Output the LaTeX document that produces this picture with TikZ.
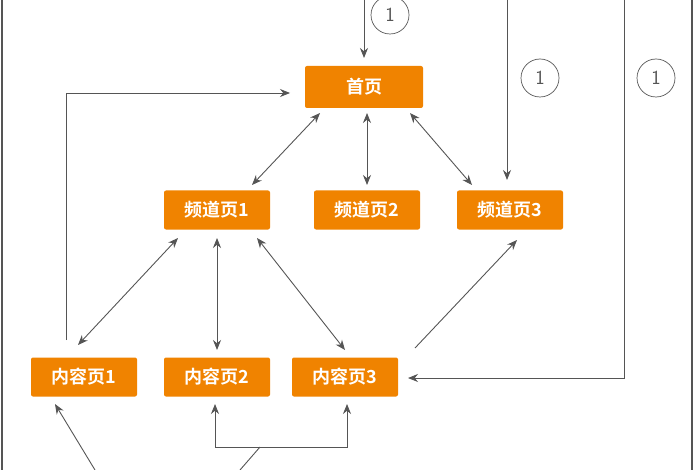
\documentclass[tikz,border=0pt]{standalone}
\usepackage{fontspec}
\newfontfamily\cjk{Noto Sans CJK SC Bold}
\usetikzlibrary{arrows.meta}
\definecolor{org}{HTML}{F08300}
\definecolor{ln}{HTML}{555555}
\begin{document}
\begin{tikzpicture}[x=1pt,y=-1pt,
  pg/.style={fill=org,rounded corners=2pt,text=white,font=\cjk\fontsize{18}{18}\selectfont,minimum width=106pt,minimum height=39pt,inner sep=0pt},
  cn/.style={draw=ln,line width=0.9pt,-{Stealth[length=10pt,width=8pt]}},
  bi/.style={draw=ln,line width=0.9pt,{Stealth[length=10pt,width=8pt]}-{Stealth[length=10pt,width=8pt]}},
  num/.style={circle,draw=ln,line width=0.7pt,minimum size=38pt,inner sep=0pt,font=\sffamily\fontsize{20}{20}\selectfont,text=ln}]
\useasboundingbox (0,0) rectangle (700,470);
\draw[ln,line width=1.2pt] (2,0)--(2,470) (692,0)--(692,470);
\node[pg,minimum width=118pt,minimum height=42pt] (home) at (364,87) {首页};
\node[pg] (c1) at (217,210) {频道页1};
\node[pg] (c2) at (367,210) {频道页2};
\node[pg] (c3) at (510,210) {频道页3};
\node[pg] (p1) at (84,377) {内容页1};
\node[pg] (p2) at (217,377) {内容页2};
\node[pg] (p3) at (345,377) {内容页3};
\node[num] (n0) at (390,15) {1};
\node[num] (n1) at (540,78) {1};
\node[num] (n2) at (656,78) {1};
\coordinate (t0) at (364,0);
\coordinate (t1) at (507,0);
\coordinate (t2) at (624,0);
\draw[cn] (t0) -- (364,58);
\draw[cn] (t1) -- (507,180);
\draw[cn] (t2) -- (624,378) -- (408,378);
\draw[cn] (66,340) -- (66,93) -- (290,93);
\draw[bi] (320,113) -- (252,185);
\draw[bi] (367,113) -- (367,185);
\draw[bi] (410,113) -- (472,185);
\draw[bi] (178,238) -- (78,345);
\draw[bi] (217,238) -- (217,350);
\draw[bi] (257,238) -- (345,350);
\draw[cn] (415,348) -- (517,240);
\coordinate (b1) at (95,470);
\coordinate (b2) at (240,470);
\draw[cn] (b1) -- (55,404);
\draw[ln,line width=0.9pt] (b2) -- (260,447);
\draw[cn] (260,447) -- (215,447) -- (215,404);
\draw[cn] (260,447) -- (347,447) -- (347,404);
\end{tikzpicture}
\end{document}
